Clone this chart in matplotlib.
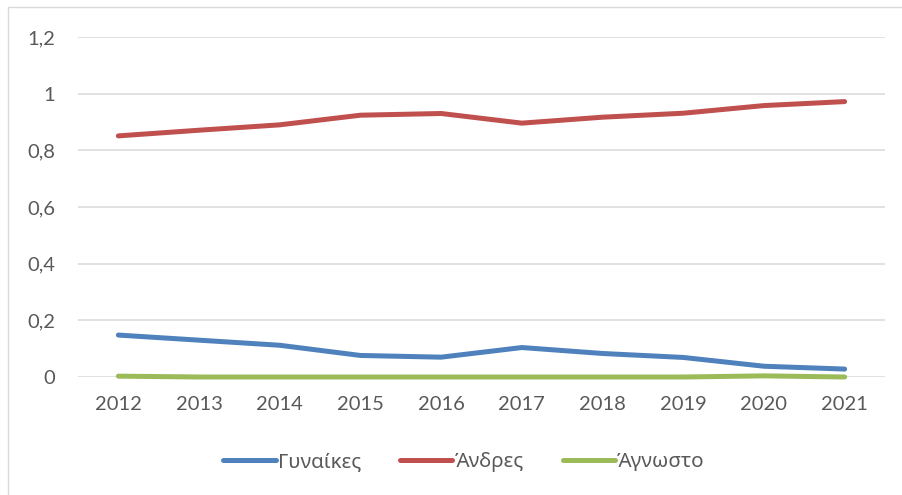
import matplotlib
matplotlib.use('Agg')
import matplotlib.pyplot as plt
from matplotlib.patches import Rectangle

# Δεδομένα (εκτίμηση από το γράφημα)
years = ['2012', '2013', '2014', '2015', '2016', '2017', '2018', '2019', '2020', '2021']
gynaikes = [0.148, 0.130, 0.112, 0.076, 0.070, 0.104, 0.083, 0.069, 0.038, 0.028]
andres = [0.851, 0.871, 0.890, 0.924, 0.930, 0.896, 0.917, 0.931, 0.958, 0.972]
agnosto = [0.003, 0.0, 0.0, 0.0, 0.0, 0.0, 0.0, 0.0, 0.004, 0.0]
y_ticks = [0, 0.2, 0.4, 0.6, 0.8, 1.0, 1.2]
y_labels = ['0', '0,2', '0,4', '0,6', '0,8', '1', '1,2']

plt.rcParams['font.family'] = ['Lato', 'Noto Sans', 'DejaVu Sans']
text_col = '#595959'

fig = plt.figure(figsize=(9.03, 4.95), dpi=100)
ax = fig.add_axes([78 / 903, 1 - 377 / 495, (885 - 78) / 903, 340 / 495])

x = range(len(years))
ax.plot(x, gynaikes, color='#4F81BD', lw=3.6, solid_capstyle='round', label='Γυναίκες', clip_on=False)
ax.plot(x, andres, color='#C0504D', lw=3.6, solid_capstyle='round', label='Άνδρες', clip_on=False)
ax.plot(x, agnosto, color='#9BBB59', lw=3.6, solid_capstyle='round', label='Άγνωστο', clip_on=False)

ax.set_xlim(-0.5, len(years) - 0.5)
ax.set_ylim(0, 1.2)
ax.set_yticks(y_ticks)
ax.set_yticklabels(y_labels)
ax.set_xticks(list(x))
ax.set_xticklabels(years)
ax.yaxis.grid(True, color='#D9D9D9', lw=1.1)
ax.set_axisbelow(True)
for s in ax.spines.values():
    s.set_visible(False)
ax.tick_params(length=0, labelsize=14.5, colors=text_col)
ax.tick_params(axis='x', pad=14)
ax.tick_params(axis='y', pad=16.5)

leg = fig.legend(loc='center', bbox_to_anchor=(464 / 903, 1 - 462 / 495), ncol=3,
                 frameon=False, handlelength=2.55, handletextpad=0.1, columnspacing=1.9,
                 prop={'family': ['Noto Sans', 'DejaVu Sans'], 'size': 14.8})
for t in leg.get_texts():
    t.set_color(text_col)

# ramka γραφήματος
fig.patches.append(Rectangle((8 / 903, -0.1), 1.2, 1 - 7 / 495 + 0.1, transform=fig.transFigure,
                             fill=False, edgecolor='#D9D9D9', lw=1.0))

fig.savefig('out.png', dpi=100)
